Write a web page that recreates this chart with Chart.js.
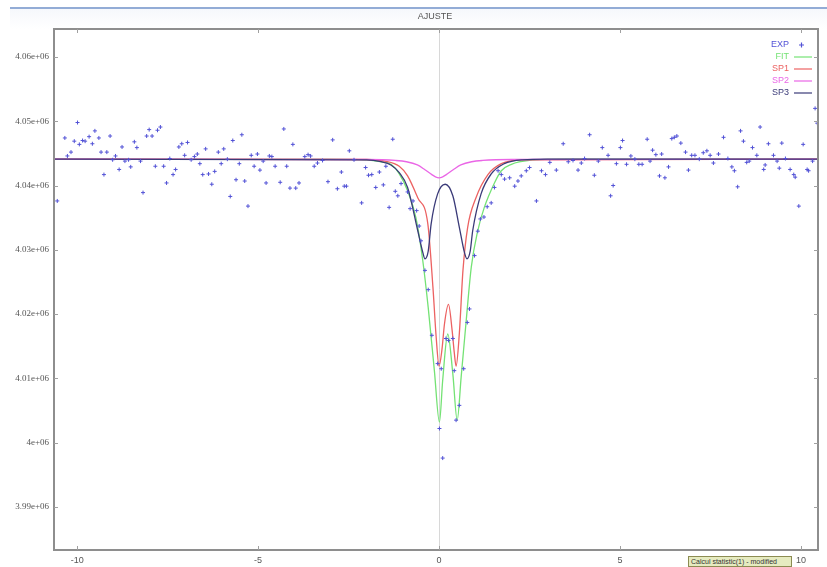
<!DOCTYPE html>
<html>
<head>
<meta charset="utf-8">
<script src="https://cdn.jsdelivr.net/npm/chart.js@4.4.1/dist/chart.umd.min.js"></script>
<style>
body{margin:0;background:#fff;}
#wrap{position:relative;width:827px;height:567px;overflow:hidden;background:#fff;}
#band{position:absolute;left:10px;top:9px;right:0;height:20px;background:linear-gradient(#f6f8fc,#ffffff);}
#topbar{position:absolute;left:10px;top:7px;right:0;height:2px;background:#93acd6;}
#status{position:absolute;left:688px;top:556px;width:102px;height:9px;border:1px solid #8c8c52;background:#e6ebc0;
  font:7px "Liberation Sans";color:#333;line-height:9px;white-space:nowrap;overflow:hidden;text-indent:2px;}
canvas{position:absolute;left:0;top:0;}
</style>
</head>
<body>
<div id="wrap">
  <div id="band"></div>
  <div id="topbar"></div>
  <canvas id="myChart" width="827" height="567"></canvas>
  <div id="status">Calcul statistic(1) - modified</div>
</div>
<script>
// experimental points (velocity, counts)
const expX = [-10.55,-10.34,-10.27,-10.17,-10.08,-9.99,-9.94,-9.85,-9.78,-9.67,
  -9.58,-9.51,-9.40,-9.34,-9.26,-9.18,-9.09,-9.02,-8.94,-8.84,
  -8.76,-8.68,-8.58,-8.52,-8.42,-8.35,-8.25,-8.18,-8.08,-8.01,
  -7.93,-7.84,-7.78,-7.70,-7.61,-7.53,-7.44,-7.35,-7.28,-7.19,
  -7.11,-7.03,-6.95,-6.85,-6.76,-6.68,-6.61,-6.53,-6.45,-6.37,
  -6.28,-6.20,-6.10,-6.02,-5.95,-5.85,-5.77,-5.70,-5.61,-5.52,
  -5.45,-5.37,-5.28,-5.19,-5.11,-5.02,-4.95,-4.86,-4.78,-4.69,
  -4.62,-4.53,-4.39,-4.29,-4.21,-4.12,-4.04,-3.96,-3.87,-3.71,
  -3.62,-3.55,-3.45,-3.36,-3.22,-3.07,-2.94,-2.81,-2.70,-2.62,
  -2.56,-2.48,-2.35,-2.14,-2.03,-1.95,-1.86,-1.75,-1.65,-1.54,
  -1.47,-1.38,-1.28,-1.21,-1.14,-1.05,-0.87,-0.80,-0.72,-0.62,
  -0.55,-0.50,-0.39,-0.30,-0.20,-0.04,0.01,0.06,0.10,0.19,
  0.26,0.38,0.42,0.47,0.56,0.68,0.78,0.84,0.98,1.07,
  1.14,1.24,1.33,1.44,1.53,1.63,1.72,1.81,1.95,2.09,
  2.18,2.27,2.41,2.50,2.69,2.83,2.94,3.06,3.24,3.43,
  3.57,3.70,3.84,3.93,4.02,4.16,4.29,4.40,4.51,4.67,
  4.74,4.81,4.90,5.01,5.07,5.18,5.30,5.41,5.52,5.61,
  5.75,5.83,5.90,5.99,6.09,6.15,6.24,6.34,6.43,6.50,
  6.57,6.68,6.81,6.89,6.98,7.07,7.19,7.30,7.40,7.49,
  7.58,7.72,7.86,7.98,8.09,8.16,8.25,8.33,8.41,8.50,
  8.57,8.66,8.78,8.87,8.97,9.01,9.10,9.24,9.34,9.40,
  9.47,9.57,9.70,9.80,9.84,9.94,10.06,10.17,10.21,10.32,
  10.39,10.45,10.50];
const expY = [4037600,4047400,4044600,4045200,4046900,4049800,4046400,4047000,4046900,4047600,
  4046500,4048500,4047400,4045200,4041700,4045200,4047700,4044000,4044600,4042500,
  4046000,4043800,4044000,4042900,4046800,4045900,4043800,4038900,4047700,4048700,
  4047700,4043000,4048600,4049100,4043000,4040400,4044200,4041700,4042500,4046000,
  4046500,4044700,4046700,4044000,4044500,4044900,4043400,4041700,4045700,4041800,
  4040200,4042200,4045200,4043400,4045700,4044100,4038300,4047000,4040900,4043400,
  4047900,4040700,4036800,4044700,4043000,4044900,4042400,4043800,4040400,4044600,
  4044500,4043000,4040500,4048800,4043000,4039600,4046400,4039600,4040400,4044500,
  4044800,4044600,4043000,4043500,4043900,4040600,4047100,4039500,4042100,4039900,
  4039900,4045400,4044000,4037300,4042800,4041600,4041700,4039700,4042100,4040100,
  4043000,4036600,4047200,4039100,4038400,4040300,4039000,4036400,4037600,4036100,
  4033700,4031400,4026800,4023800,4016700,4012300,4002200,4011500,3997600,4016200,
  4015900,4016200,4011200,4003500,4005800,4011500,4018700,4020800,4029100,4032900,
  4034800,4035100,4036700,4037300,4039700,4042300,4041700,4041000,4041200,4039900,
  4040700,4041500,4042300,4042800,4037600,4042300,4041700,4043600,4042400,4046500,
  4043700,4043900,4042400,4043500,4044200,4047900,4041600,4043800,4045900,4044700,
  4038400,4040000,4043400,4045900,4047000,4043300,4044600,4044100,4043300,4043300,
  4047200,4043800,4045500,4044800,4041500,4044900,4041200,4042900,4047300,4047500,
  4047700,4046600,4045200,4042400,4044700,4044700,4044100,4045100,4045400,4044700,
  4043500,4044900,4047500,4044200,4042900,4042300,4039800,4048500,4046900,4043600,
  4043800,4045900,4044700,4049100,4042500,4043200,4046500,4044700,4043800,4042700,
  4046600,4044200,4042500,4041700,4041300,4036800,4046400,4042500,4042300,4043800,
  4052000,4049700,4054600];

// fitted curves
const fitX = [-10.64,-3,-2,-1.6,-1.33,-1.1,-0.87,-0.64,-0.45,-0.30,-0.13,0.01,0.10,0.24,0.38,0.50,0.61,0.75,0.89,1.07,1.25,1.53,1.72,2.0,2.5,3.5,10.47];
const fitY = [4044100,4044100,4043950,4043700,4043300,4041800,4039200,4035000,4028300,4021000,4011200,4003200,4009700,4016900,4010700,4003500,4010200,4019000,4027300,4033000,4036600,4040400,4042300,4043300,4043900,4044100,4044100];

const sp1X = [-10.64,-2,-1.5,-1.1,-0.87,-0.59,-0.31,-0.17,-0.08,0.0,0.08,0.15,0.26,0.36,0.42,0.47,0.56,0.66,0.79,1.02,1.35,1.72,2.3,10.47];
const sp1Y = [4044100,4044050,4043800,4043000,4041500,4038100,4034000,4024200,4016400,4011900,4014500,4018500,4021500,4017500,4014000,4011900,4017000,4026800,4033500,4038100,4041700,4043400,4044000,4044100];

const sp2X = [-10.64,-2,-1.2,-0.9,-0.6,-0.4,-0.2,-0.1,0,0.1,0.2,0.4,0.6,0.9,1.2,2,10.47];
const sp2Y = [4044100,4044050,4043900,4043700,4043200,4042500,4041700,4041350,4041200,4041350,4041700,4042500,4043200,4043700,4043900,4044050,4044100];

const sp3X = [-10.64,-2,-1.6,-1.33,-1.1,-0.87,-0.59,-0.45,-0.39,-0.30,-0.22,-0.04,0.17,0.38,0.56,0.70,0.77,0.86,0.93,1.16,1.44,1.8,2.3,3,10.47];
const sp3Y = [4044100,4044000,4043700,4043200,4042000,4039700,4033000,4029600,4028600,4029800,4034000,4038700,4040200,4038400,4033500,4029600,4028600,4029800,4033000,4038700,4041800,4043400,4044000,4044100,4044100];

const xTicks = [-10, -5, 0, 5, 10];
const yTicks = [3990000, 4000000, 4010000, 4020000, 4030000, 4040000, 4050000, 4060000];

const seriesNames = ['EXP', 'FIT', 'SP1', 'SP2', 'SP3'];
const seriesColors = ['#5252d6', '#74e274', '#ec6262', '#ea66e6', '#3a3a78'];

const toPts = (xs, ys) => xs.map((v, i) => ({x: v, y: ys[i]}));

const fmtY = v => {
  let m = (v / 1e6).toFixed(2).replace(/0+$/, '').replace(/\.$/, '');
  return m + 'e+06';
};

const framePlugin = {
  id: 'frame',
  beforeDatasetsDraw(chart) {
    const {ctx, chartArea: a, scales} = chart;
    const x0 = Math.round(scales.x.getPixelForValue(0)) + 0.5;
    ctx.save();
    ctx.strokeStyle = '#d8d8d8';
    ctx.lineWidth = 1;
    ctx.beginPath(); ctx.moveTo(x0, a.top); ctx.lineTo(x0, a.bottom); ctx.stroke();
    ctx.restore();
  },
  afterDraw(chart) {
    const {ctx, chartArea: a, scales} = chart;
    ctx.save();
    // frame
    ctx.strokeStyle = '#8e8e8e';
    ctx.lineWidth = 2;
    ctx.strokeRect(a.left, a.top, a.right - a.left, a.bottom - a.top);
    // inward ticks
    ctx.lineWidth = 1;
    ctx.strokeStyle = '#a0a0a0';
    yTicks.forEach(v => {
      const p = Math.round(scales.y.getPixelForValue(v)) + 0.5;
      ctx.beginPath();
      ctx.moveTo(a.left, p); ctx.lineTo(a.left + 4, p);
      ctx.moveTo(a.right, p); ctx.lineTo(a.right - 4, p);
      ctx.stroke();
    });
    xTicks.forEach(v => {
      const p = Math.round(scales.x.getPixelForValue(v)) + 0.5;
      ctx.beginPath();
      ctx.moveTo(p, a.top); ctx.lineTo(p, a.top + 4);
      ctx.moveTo(p, a.bottom); ctx.lineTo(p, a.bottom - 4);
      ctx.stroke();
    });
    // title
    ctx.fillStyle = '#555';
    ctx.font = '9px "Liberation Sans"';
    ctx.textAlign = 'center';
    ctx.textBaseline = 'middle';
    ctx.fillText('AJUSTE', 435, 17);
    // legend
    ctx.textAlign = 'right';
    seriesNames.forEach((name, i) => {
      const yy = 45 + i * 12;
      ctx.fillStyle = seriesColors[i];
      ctx.fillText(name, 789, yy);
      ctx.strokeStyle = seriesColors[i];
      ctx.lineWidth = 1.2;
      ctx.beginPath();
      if (i === 0) {
        ctx.moveTo(799, yy); ctx.lineTo(804, yy);
        ctx.moveTo(801.5, yy - 2.5); ctx.lineTo(801.5, yy + 2.5);
      } else {
        ctx.moveTo(794, yy); ctx.lineTo(812, yy);
      }
      ctx.stroke();
    });
    ctx.restore();
  }
};

const lineSet = (label, xs, ys, color, order) => ({
  label: label,
  data: toPts(xs, ys),
  showLine: true,
  pointRadius: 0,
  borderColor: color,
  borderWidth: 1.3,
  cubicInterpolationMode: 'monotone',
  order: order
});

new Chart('myChart', {
  type: 'scatter',
  data: {
    datasets: [
      {
        label: 'EXP',
        data: toPts(expX, expY),
        pointStyle: 'cross',
        pointRadius: 2,
        borderColor: seriesColors[0],
        backgroundColor: seriesColors[0],
        borderWidth: 1,
        showLine: false,
        order: 0
      },
      lineSet('SP3', sp3X, sp3Y, seriesColors[4], 1),
      lineSet('SP2', sp2X, sp2Y, seriesColors[3], 2),
      lineSet('SP1', sp1X, sp1Y, seriesColors[2], 3),
      lineSet('FIT', fitX, fitY, seriesColors[1], 4)
    ]
  },
  options: {
    responsive: false,
    animation: false,
    layout: {padding: {top: 29, right: 9, left: 0, bottom: 0}},
    plugins: {legend: {display: false}, tooltip: {enabled: false}},
    scales: {
      x: {
        type: 'linear',
        min: -10.64,
        max: 10.47,
        grid: {display: false, drawTicks: false},
        border: {display: false},
        afterFit: s => { s.height = 17; },
        afterBuildTicks: s => { s.ticks = xTicks.map(v => ({value: v})); },
        ticks: {
          padding: 5,
          maxRotation: 0,
          color: '#555',
          font: {family: 'Liberation Sans', size: 9},
          callback: v => String(v)
        }
      },
      y: {
        type: 'linear',
        min: 3983300,
        max: 4064350,
        grid: {display: false, drawTicks: false},
        border: {display: false},
        afterFit: s => { s.width = 54; },
        afterBuildTicks: s => { s.ticks = yTicks.map(v => ({value: v})); },
        ticks: {
          padding: 5,
          color: '#555',
          font: {family: 'Liberation Serif', size: 9},
          callback: v => fmtY(v)
        }
      }
    }
  },
  plugins: [framePlugin]
});
</script>
</body>
</html>
